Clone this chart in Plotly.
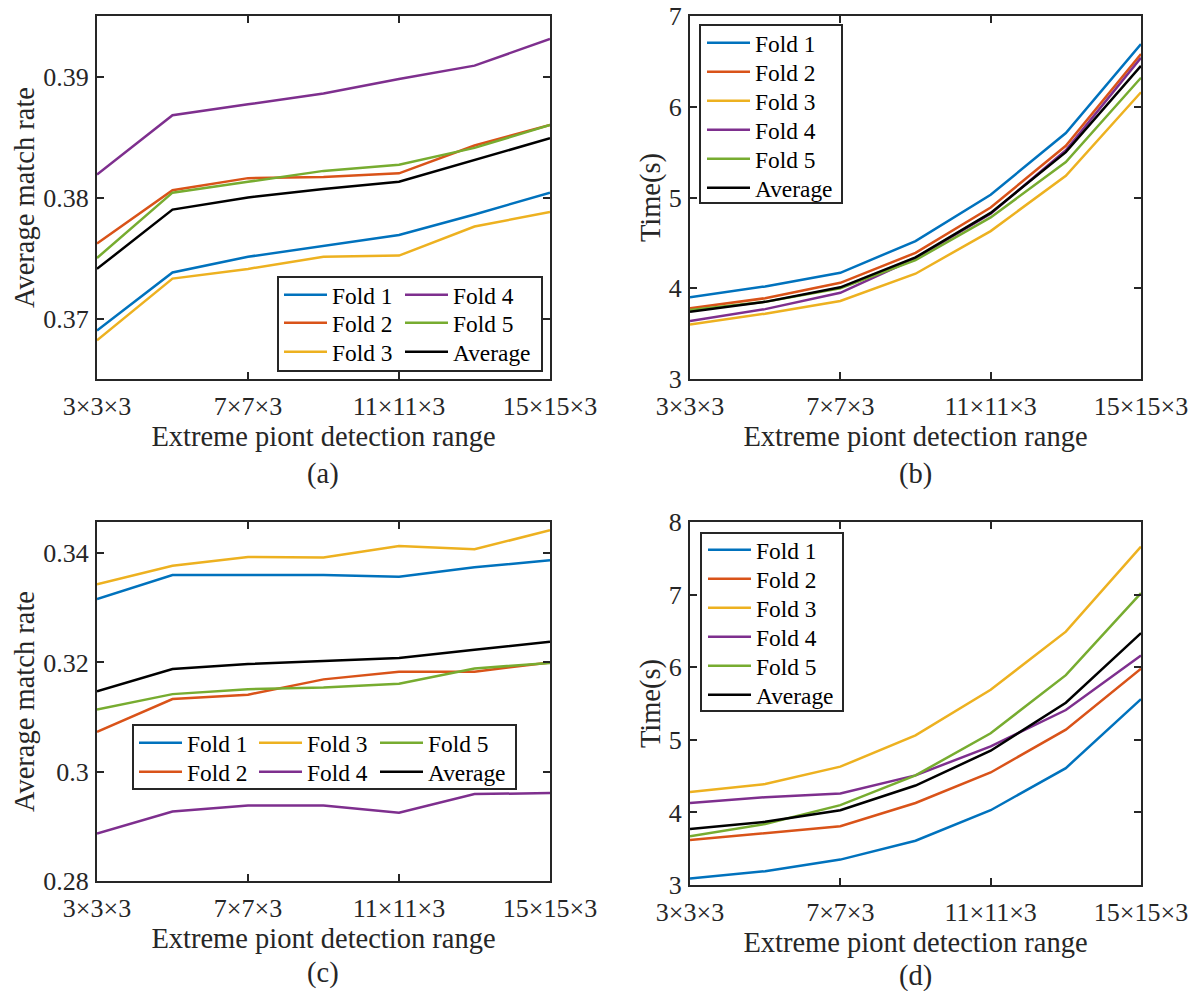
import plotly.graph_objects as go

# x categories: size of the extreme point detection window
ranges = ["3×3×3", "5×5×3", "7×7×3", "9×9×3", "11×11×3", "13×13×3", "15×15×3"]
tick_labels = ["3×3×3", "7×7×3", "11×11×3", "15×15×3"]
series_names = ["Fold 1", "Fold 2", "Fold 3", "Fold 4", "Fold 5", "Average"]

# (a) average match rate
a_fold1 = [0.3690, 0.3738, 0.3751, 0.3760, 0.3769, 0.3786, 0.3804]
a_fold2 = [0.3762, 0.3806, 0.3816, 0.3817, 0.3820, 0.3843, 0.3860]
a_fold3 = [0.3682, 0.3733, 0.3741, 0.3751, 0.3752, 0.3776, 0.3788]
a_fold4 = [0.3819, 0.3868, 0.3877, 0.3886, 0.3898, 0.3909, 0.3931]
a_fold5 = [0.3750, 0.3804, 0.3813, 0.3822, 0.3827, 0.3841, 0.3860]
a_avg = [0.3741, 0.3790, 0.3800, 0.3807, 0.3813, 0.3831, 0.3849]

# (b) time in seconds
b_fold1 = [3.90, 4.02, 4.17, 4.52, 5.03, 5.71, 6.69]
b_fold2 = [3.78, 3.89, 4.06, 4.39, 4.89, 5.57, 6.58]
b_fold3 = [3.60, 3.72, 3.86, 4.16, 4.63, 5.24, 6.16]
b_fold4 = [3.64, 3.77, 3.95, 4.33, 4.82, 5.52, 6.54]
b_fold5 = [3.76, 3.85, 4.00, 4.31, 4.78, 5.39, 6.32]
b_avg = [3.74, 3.85, 4.01, 4.34, 4.83, 5.50, 6.45]

# (c) average match rate
c_fold1 = [0.3316, 0.3360, 0.3360, 0.3360, 0.3357, 0.3374, 0.3387]
c_fold2 = [0.3073, 0.3133, 0.3141, 0.3169, 0.3183, 0.3183, 0.3200]
c_fold3 = [0.3343, 0.3377, 0.3393, 0.3392, 0.3413, 0.3407, 0.3442]
c_fold4 = [0.2887, 0.2927, 0.2938, 0.2938, 0.2925, 0.2959, 0.2961]
c_fold5 = [0.3114, 0.3142, 0.3151, 0.3154, 0.3161, 0.3189, 0.3199]
c_avg = [0.3147, 0.3188, 0.3197, 0.3203, 0.3208, 0.3223, 0.3238]

# (d) time in seconds
d_fold1 = [3.09, 3.19, 3.35, 3.61, 4.03, 4.61, 5.56]
d_fold2 = [3.62, 3.71, 3.81, 4.13, 4.55, 5.14, 5.98]
d_fold3 = [4.28, 4.39, 4.63, 5.06, 5.69, 6.49, 7.66]
d_fold4 = [4.13, 4.21, 4.26, 4.51, 4.91, 5.41, 6.16]
d_fold5 = [3.67, 3.84, 4.10, 4.51, 5.09, 5.89, 7.02]
d_avg = [3.77, 3.87, 4.03, 4.37, 4.85, 5.51, 6.47]

colors = ["#0072BD", "#D95319", "#EDB120", "#7E2F8E", "#77AC30", "#000000"]
FONT = "Liberation Serif"
INK = "#262626"
W, H = 1193, 991


def px_x(v):
    return v / W


def px_y(v):
    return 1 - v / H


# legend entry anchors (line start x, row centre y) for each panel, in pixels
col_a = [284, 405]
rows_a = [295, 323, 352]
col_c = [139, 259, 380]
rows_c = [743, 772]
rows_bd = [43, 72, 101, 130, 159, 188]

entry_pos = [
    [(col_a[0], rows_a[0]), (col_a[0], rows_a[1]), (col_a[0], rows_a[2]),
     (col_a[1], rows_a[0]), (col_a[1], rows_a[1]), (col_a[1], rows_a[2])],
    [(707, y) for y in rows_bd],
    [(col_c[0], rows_c[0]), (col_c[0], rows_c[1]), (col_c[1], rows_c[0]),
     (col_c[1], rows_c[1]), (col_c[2], rows_c[0]), (col_c[2], rows_c[1])],
    [(708, y + 507) for y in rows_bd],
]
# legend frames: left, right, top, bottom
frames = [(278, 542, 277, 371), (700, 842, 25, 203),
          (133, 516, 725, 789), (701, 843, 533, 711)]

panels = [
    [a_fold1, a_fold2, a_fold3, a_fold4, a_fold5, a_avg],
    [b_fold1, b_fold2, b_fold3, b_fold4, b_fold5, b_avg],
    [c_fold1, c_fold2, c_fold3, c_fold4, c_fold5, c_avg],
    [d_fold1, d_fold2, d_fold3, d_fold4, d_fold5, d_avg],
]

leg_font = dict(family=FONT, size=23.4, color="#000000")
layout = {}
fig = go.Figure()
k = 0
for p, series in enumerate(panels):
    ax = "" if p == 0 else str(p + 1)
    for name, ys, col, (lx, ly) in zip(series_names, series, colors, entry_pos[p]):
        k += 1
        leg = "legend" if k == 1 else "legend%d" % k
        fig.add_trace(go.Scatter(
            x=ranges, y=ys, name=name, mode="lines",
            line=dict(color=col, width=2.5), showlegend=True,
            xaxis="x" + ax, yaxis="y" + ax, legend=leg,
        ))
        layout[leg] = dict(font=leg_font, bgcolor="rgba(0,0,0,0)", borderwidth=0,
                           xanchor="left", yanchor="middle", itemwidth=43,
                           x=px_x(lx - 5), y=px_y(ly))

# subplot boxes in pixels: left, right, top, bottom
boxes = [(97, 550, 16, 379), (690, 1141, 16, 379),
         (97, 550, 522, 881), (690, 1141, 522, 885)]

axis_style = dict(
    showline=True, linecolor=INK, linewidth=2, mirror="ticks",
    ticks="inside", ticklen=7, tickwidth=2, tickcolor=INK,
    showgrid=False, zeroline=False, automargin=False,
    tickfont=dict(family=FONT, size=26, color=INK),
)
y_ranges = [[0.365, 0.395], [3, 7], [0.28, 0.3457], [3, 8]]
y_ticks = [
    ([0.37, 0.38, 0.39], ["0.37", "0.38", "0.39"]),
    ([3, 4, 5, 6, 7], ["3", "4", "5", "6", "7"]),
    ([0.28, 0.30, 0.32, 0.34], ["0.28", "0.3", "0.32", "0.34"]),
    ([3, 4, 5, 6, 7, 8], ["3", "4", "5", "6", "7", "8"]),
]
y_titles = ["Average match rate", "Time(s)", "Average match rate", "Time(s)"]

for p, (l, r, t, b) in enumerate(boxes):
    ax = "" if p == 0 else str(p + 1)
    layout["xaxis" + ax] = dict(
        axis_style, type="category", range=[0, 6],
        domain=[px_x(l), px_x(r)], anchor="y" + ax,
        tickmode="array", tickvals=tick_labels, ticktext=tick_labels,
        ticklabelstandoff=3,
        title=dict(text="Extreme piont detection range",
                   font=dict(family=FONT, size=28.5, color=INK), standoff=3),
    )
    layout["yaxis" + ax] = dict(
        axis_style, range=y_ranges[p],
        domain=[px_y(b), px_y(t)], anchor="x" + ax,
        tickmode="array", tickvals=y_ticks[p][0], ticktext=y_ticks[p][1],
        ticklabelstandoff=1,
        title=dict(text=y_titles[p], font=dict(family=FONT, size=28.5, color=INK),
                   standoff=0),
    )

shapes = [dict(type="rect", xref="paper", yref="paper",
               x0=px_x(l), x1=px_x(r), y0=px_y(b), y1=px_y(t),
               line=dict(color=INK, width=2), fillcolor="#ffffff", layer="above")
          for l, r, t, b in frames]

# panel captions
captions = [("(a)", 323, 474), ("(b)", 915, 474), ("(c)", 323, 973), ("(d)", 915, 976)]
annotations = [dict(text=t, x=px_x(x), y=px_y(y), xref="paper", yref="paper",
                    showarrow=False, xanchor="center", yanchor="middle",
                    font=dict(family=FONT, size=28.5, color=INK))
               for t, x, y in captions]

fig.update_layout(
    width=W, height=H, margin=dict(l=0, r=0, t=0, b=0),
    paper_bgcolor="#ffffff", plot_bgcolor="#ffffff", showlegend=True,
    shapes=shapes, annotations=annotations, **layout,
)

fig.write_html("out.html")
